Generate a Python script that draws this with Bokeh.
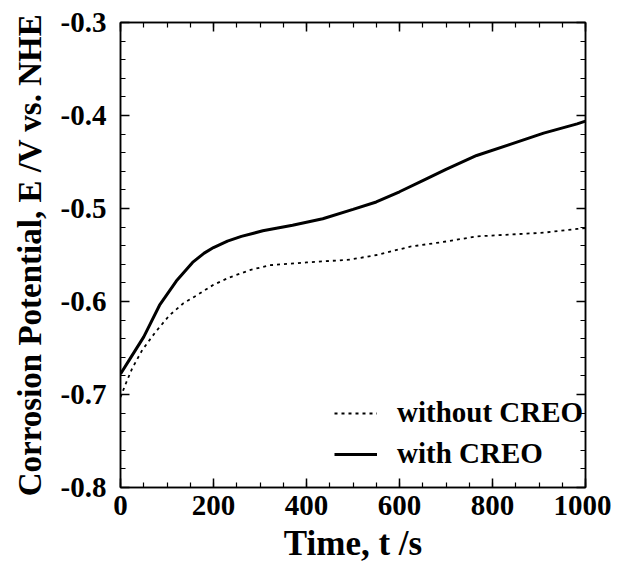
from bokeh.plotting import figure
from bokeh.models import LinearAxis, FixedTicker, Legend, LegendItem, Range1d
from bokeh.embed import file_html
from bokeh.resources import INLINE

t_with = [0, 20, 50, 84, 120, 155, 180, 200, 230, 260, 306, 370, 435, 500, 550, 600, 650, 700, 766, 838, 910, 982, 1000]
e_with = [-0.678, -0.662, -0.638, -0.604, -0.578, -0.558, -0.548, -0.542, -0.535, -0.530, -0.524, -0.518, -0.511, -0.501, -0.493, -0.482, -0.470, -0.458, -0.443, -0.431, -0.419, -0.409, -0.406]

t_without = [0, 10, 25, 47, 75, 105, 135, 162, 200, 235, 280, 321, 400, 493, 551, 623, 694, 766, 838, 910, 982, 1000]
e_without = [-0.703, -0.690, -0.672, -0.652, -0.633, -0.615, -0.602, -0.594, -0.582, -0.574, -0.566, -0.561, -0.558, -0.555, -0.550, -0.541, -0.536, -0.530, -0.528, -0.526, -0.522, -0.521]

x_ticks = [0, 200, 400, 600, 800, 1000]
y_ticks = [-0.8, -0.7, -0.6, -0.5, -0.4, -0.3]
y_tick_labels = ["-0.8", "-0.7", "-0.6", "-0.5", "-0.4", "-0.3"]
x_minor = list(range(0, 1001, 50))
y_minor = [round(-0.8 + 0.02 * i, 2) for i in range(26)]

FONT = "Liberation Serif"

p = figure(width=611, height=573, output_backend="svg", toolbar_location=None,
           x_range=Range1d(0, 1000), y_range=Range1d(-0.8, -0.3),
           min_border_left=120, min_border_right=26, min_border_top=22, min_border_bottom=86)
p.xgrid.visible = False
p.ygrid.visible = False
p.outline_line_color = "black"
p.outline_line_width = 1.5
p.background_fill_color = "white"
p.border_fill_color = "white"

r_without = p.line(t_without, e_without, line_color="black", line_width=1.8, line_dash="3 4")
r_with = p.line(t_with, e_with, line_color="black", line_width=3)

def style_axis(ax, show_labels):
    ax.axis_line_width = 1.5
    ax.major_tick_in = 9
    ax.major_tick_out = 0
    ax.minor_tick_in = 5
    ax.minor_tick_out = 0
    ax.major_tick_line_width = 1.5
    ax.minor_tick_line_width = 1.2
    ax.major_label_text_font = FONT
    ax.major_label_text_font_style = "bold"
    ax.major_label_text_font_size = "29px" if show_labels else "0px"
    ax.major_label_text_color = "black" if show_labels else None
    ax.axis_label_text_font = FONT
    ax.axis_label_text_font_style = "bold"
    ax.axis_label_text_color = "black"

xt = FixedTicker(ticks=x_ticks, minor_ticks=x_minor)
yt = FixedTicker(ticks=y_ticks, minor_ticks=y_minor)

p.xaxis.ticker = xt
p.yaxis.ticker = yt
style_axis(p.xaxis[0], True)
style_axis(p.yaxis[0], True)
p.yaxis.major_label_overrides = {v: s for v, s in zip(y_ticks, y_tick_labels)}
p.xaxis.axis_label = "Time, t /s"
p.yaxis.axis_label = "Corrosion Potential, E /V vs. NHE"
p.xaxis.axis_label_text_font_size = "35px"
p.yaxis.axis_label_text_font_size = "33px"
p.xaxis.major_label_standoff = 8
p.yaxis.major_label_standoff = 14
p.xaxis.axis_label_standoff = 6
p.yaxis.axis_label_standoff = 10

top = LinearAxis(ticker=FixedTicker(ticks=x_ticks, minor_ticks=x_minor))
style_axis(top, False)
right = LinearAxis(ticker=FixedTicker(ticks=y_ticks, minor_ticks=y_minor))
style_axis(right, False)
p.add_layout(top, "above")
p.add_layout(right, "right")

legend = Legend(items=[LegendItem(label="without CREO", renderers=[r_without]),
                       LegendItem(label="with CREO", renderers=[r_with])],
                location=(214, 17), orientation="vertical",
                label_text_font=FONT, label_text_font_style="bold",
                label_text_font_size="29px", label_text_color="black",
                glyph_width=43, glyph_height=32, label_height=32, spacing=8,
                padding=4, margin=0, label_standoff=20,
                border_line_color=None, background_fill_alpha=0)
p.add_layout(legend, "center")

open("out.html", "w").write(file_html(p, INLINE))
